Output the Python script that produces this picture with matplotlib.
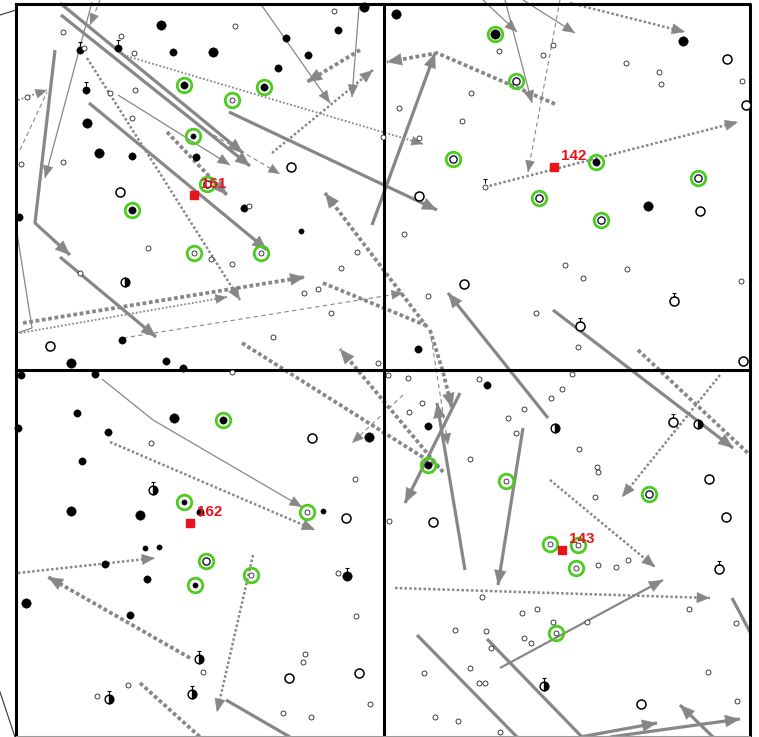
import numpy as np
import matplotlib.pyplot as plt
from matplotlib.path import Path

GRAY = '#878787'
GREEN = '#4ccc1f'
RED = '#e8141a'

# target fields: centre and catalogue number
target_ids = ['161', '142', '162', '143']
target_x = [194, 554, 190, 562]
target_y = [195, 167, 523, 550]

# field stars (chart units, y grows downward)
black_big = [(161, 25), (364, 7), (213, 52), (87, 123), (99, 153), (71, 363), (396, 14),
             (683, 41), (648, 206), (71, 511), (140, 515), (26, 603), (347, 576),
             (369, 437), (174, 418), (495, 34)]
black_mid = [(338, 30), (173, 52), (308, 55), (80, 50), (118, 48), (86, 90), (132, 156),
             (196, 157), (122, 340), (166, 361), (183, 368), (108, 432), (105, 564),
             (130, 615), (200, 512), (487, 385), (428, 426), (244, 208), (286, 38),
             (278, 68), (19, 217), (77, 413), (95, 374), (21, 375), (18, 428), (147, 579),
             (82, 461), (418, 349), (184, 85), (264, 87), (132, 210), (596, 162), (223, 420),
             (428, 465)]
black_small = [(301, 231), (323, 511), (145, 548), (159, 547), (193, 136), (184, 502),
               (195, 585)]
open_small = [(63, 32), (121, 36), (134, 53), (235, 26), (334, 11), (84, 48), (110, 93),
              (135, 90), (132, 118), (63, 162), (21, 164), (27, 97), (249, 206), (148, 248),
              (211, 259), (232, 264), (357, 252), (341, 268), (304, 293), (318, 289),
              (331, 313), (273, 337), (80, 273), (378, 363), (383, 137),
              (499, 51), (553, 45), (543, 55), (626, 63), (659, 72), (661, 84), (742, 81),
              (471, 93), (399, 108), (462, 121), (419, 138), (485, 187), (404, 234),
              (565, 265), (583, 278), (627, 269), (741, 281), (428, 296), (536, 313),
              (578, 347), (388, 375), (151, 443), (355, 479), (338, 573), (356, 616),
              (305, 654), (303, 662), (370, 704), (283, 713), (311, 717), (128, 685),
              (97, 696), (203, 672), (232, 372), (408, 378), (479, 379), (572, 374),
              (562, 389), (551, 398), (422, 403), (409, 412), (524, 409), (508, 418),
              (516, 433), (579, 449), (470, 459), (597, 467), (598, 472), (595, 497),
              (389, 521), (598, 565), (616, 567), (628, 560), (482, 597), (522, 613),
              (537, 609), (553, 622), (455, 630), (486, 631), (524, 638), (531, 643),
              (491, 648), (470, 668), (424, 673), (479, 683), (485, 683), (435, 717),
              (458, 721), (500, 732), (689, 609), (736, 623), (708, 672), (737, 701),
              (587, 622), (232, 100), (194, 253), (261, 253), (307, 512), (251, 575),
              (506, 481), (550, 544), (578, 545), (576, 568), (556, 633)]
open_mid = [(207, 184), (516, 81), (453, 159), (539, 198), (601, 220), (698, 178),
            (206, 561), (649, 494)]
open_big = [(291, 167), (120, 192), (50, 346), (727, 59), (746, 105), (419, 196),
            (700, 211), (464, 284), (674, 301), (580, 326), (743, 361), (312, 438),
            (346, 518), (289, 678), (359, 673), (433, 522), (709, 479), (726, 517),
            (641, 704), (673, 422), (719, 569)]
half_filled = [(125, 282), (153, 490), (199, 659), (192, 694), (109, 699), (698, 424),
               (555, 428), (544, 686)]
flagged = [(80, 50), (118, 48), (86, 90), (485, 187), (674, 301), (580, 326), (153, 490),
           (199, 659), (192, 694), (109, 699), (347, 576), (673, 422), (719, 569), (544, 686)]

# members picked out in green
members = [(184, 85), (264, 87), (232, 100), (193, 136), (207, 184), (132, 210), (194, 253),
           (261, 253), (495, 34), (516, 81), (453, 159), (596, 162), (539, 198), (601, 220),
           (698, 178), (223, 420), (184, 502), (307, 512), (206, 561), (195, 585), (251, 575),
           (428, 465), (506, 481), (649, 494), (550, 544), (578, 545), (576, 568), (556, 633)]

# proper-motion vectors, last point is the tip
thick_vec = [[(60, 3), (243, 153)], [(61, 15), (250, 166)], [(89, 103), (267, 250)],
             [(229, 112), (437, 210)], [(55, 50), (35, 223), (70, 255)],
             [(60, 257), (156, 337)], [(372, 225), (435, 53)], [(548, 418), (448, 293)],
             [(553, 310), (733, 448)], [(460, 393), (405, 503)], [(465, 570), (437, 403)],
             [(523, 428), (498, 585)], [(580, 737), (657, 723)], [(610, 737), (740, 719)],
             [(713, 737), (680, 705)]]
thick_open = [[(417, 635), (517, 737)], [(487, 639), (582, 737)], [(732, 598), (750, 632)],
              [(226, 700), (290, 737)]]
medium_vec = [[(500, 668), (663, 580)]]
thin_vec = [[(118, 95), (230, 165)], [(260, 3), (330, 103)], [(359, 7), (352, 97)],
            [(92, 2), (45, 178)], [(483, 0), (517, 32)], [(505, 0), (532, 103)],
            [(523, 0), (575, 33)], [(102, 379), (153, 420), (302, 507)]]
thin_open = [[(17, 233), (32, 328), (17, 333)]]
dot_thick_vec = [[(167, 132), (227, 195)], [(360, 50), (307, 82)], [(23, 323), (305, 277)],
                 [(555, 104), (437, 53), (387, 62)], [(427, 327), (325, 193)],
                 [(430, 330), (443, 372), (452, 408)], [(443, 472), (340, 349)],
                 [(190, 658), (48, 577)]]
dot_thick_open = [[(323, 283), (425, 325)], [(242, 343), (440, 468)],
                  [(638, 350), (750, 455)], [(140, 683), (200, 737)]]
dot_mid_vec = [[(87, 58), (240, 300)], [(272, 153), (373, 70)], [(570, 3), (685, 32)],
               [(720, 375), (622, 497)], [(550, 480), (655, 567)], [(253, 555), (217, 712)],
               [(485, 187), (738, 122)], [(110, 442), (315, 530)], [(18, 573), (155, 558)],
               [(395, 588), (710, 598)]]
dot_thin_vec = [[(123, 55), (423, 144)], [(20, 333), (227, 297)], [(18, 100), (47, 90)]]
dash_vec = [[(200, 127), (280, 174)], [(123, 338), (403, 293)], [(560, 0), (528, 172)],
            [(403, 395), (352, 443)], [(430, 330), (448, 445)], [(100, 0), (90, 25)]]
dash_open = [[(20, 150), (47, 92)]]

fig = plt.figure(figsize=(7.59, 7.37), dpi=100)
ax = fig.add_axes([0, 0, 1, 1])
ax.set_xlim(0, 759)
ax.set_ylim(737, 0)
ax.axis('off')


def draw_vectors(vecs, lw, dashes=None, head=True, hs=14):
    for v in vecs:
        pts = np.asarray(v, float)
        line, = ax.plot(pts[:, 0], pts[:, 1], color=GRAY, lw=lw,
                        solid_capstyle='butt', dash_capstyle='butt', zorder=2)
        if dashes:
            line.set_dashes(dashes)
        if head:
            tip, prev = pts[-1], pts[-2]
            back = tip - (tip - prev) * 0.01
            ax.annotate('', xy=tip, xytext=back, zorder=2,
                        arrowprops=dict(arrowstyle='-|>,head_length=0.6,head_width=0.25',
                                        fc=GRAY, ec=GRAY, lw=0.3, shrinkA=0, shrinkB=0,
                                        mutation_scale=hs))


draw_vectors(thick_vec, 2.3, hs=17)
draw_vectors(thick_open, 2.3, head=False)
draw_vectors(medium_vec, 1.6, hs=16)
draw_vectors(thin_vec, 0.9, hs=14)
draw_vectors(thin_open, 0.9, head=False)
draw_vectors(dot_thick_vec, 2.7, dashes=(1, 0.7), hs=17)
draw_vectors(dot_thick_open, 2.7, dashes=(1, 0.7), head=False)
draw_vectors(dot_mid_vec, 1.8, dashes=(1, 0.9), hs=15)
draw_vectors(dot_thin_vec, 1.3, dashes=(1, 1.1), hs=13)
draw_vectors(dash_vec, 0.8, dashes=(4, 3), hs=13)
draw_vectors(dash_open, 0.8, dashes=(4, 3), head=False)

# panel frames
frame_kw = dict(color='black', lw=2.2, zorder=3, solid_capstyle='projecting')
ax.plot([16, 750, 750], [4, 4, 737], **frame_kw)
ax.plot([16, 16], [4, 737], **frame_kw)
ax.plot([384, 384], [4, 737], **frame_kw)
ax.plot([16, 750], [370, 370], **frame_kw)
ax.plot([16, 750], [736, 736], color='#999999', lw=0.8, zorder=3)
ax.plot([0, 16], [15, 10], color='#333333', lw=0.8, zorder=3)
ax.plot([0, 15], [692, 737], color='#333333', lw=0.8, zorder=3)


def stars(pts, **kw):
    p = np.asarray(pts, float)
    ax.plot(p[:, 0], p[:, 1], ls='none', zorder=4, **kw)


stars(black_big, marker='o', ms=6.8, mfc='black', mec='black', mew=0.3)
stars(black_mid, marker='o', ms=5.3, mfc='black', mec='black', mew=0.3)
stars(black_small, marker='o', ms=3.8, mfc='black', mec='black', mew=0.3)
stars(open_small, marker='o', ms=3.6, mfc='white', mec='#222222', mew=0.6)
stars(open_mid, marker='o', ms=5.2, mfc='white', mec='#111133', mew=1.0)
stars(open_big, marker='o', ms=6.5, mfc='white', mec='black', mew=1.1)
stars(half_filled, marker='o', ms=6.3, fillstyle='right', mfc='black',
      mfcalt='white', mec='black', mew=1.0)

tick = Path([(0, 1.0), (0, 1.9), (-0.45, 1.9), (0.45, 1.9), (0, -1.9)],
            [Path.MOVETO, Path.LINETO, Path.MOVETO, Path.LINETO, Path.MOVETO])
stars(flagged, marker=tick, ms=6.0 * 1.9, mfc='none', mec='black', mew=0.8)

stars(members, marker='o', ms=10.5, mfc='none', mec=GREEN, mew=2.0)

for tid, tx, ty in zip(target_ids, target_x, target_y):
    ax.plot(tx, ty, marker='s', ms=6.3, color=RED, zorder=6)
    ax.annotate(tid, (tx, ty), xytext=(5, 3), textcoords='offset points',
                color=RED, fontsize=11, fontweight='bold', family='Liberation Sans',
                ha='left', va='bottom', zorder=7)

fig.savefig('out.png', dpi=100)
